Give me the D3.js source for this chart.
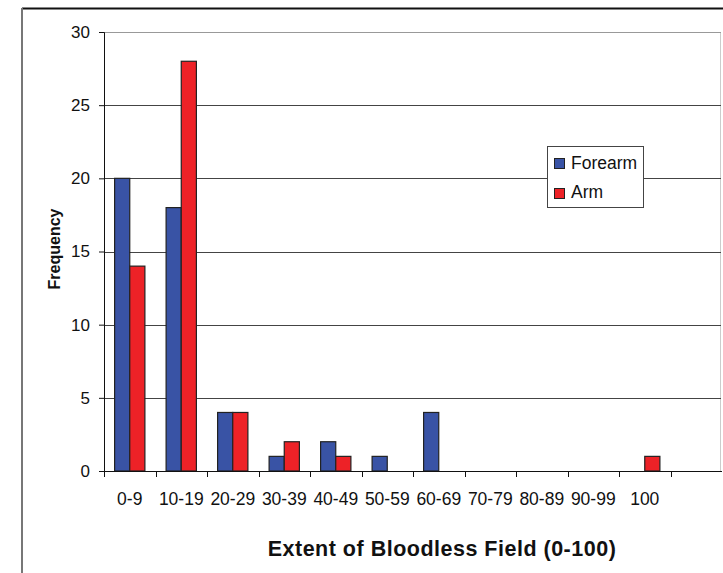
<!DOCTYPE html>
<html>
  <head>
    <meta charset="utf-8">
    <title>Extent of Bloodless Field</title>
    <script src="https://d3js.org/d3.v7.min.js"></script>
    <style>
      body { margin: 0; background: #fff; }
      svg text { font-family: "Liberation Sans", Arial, sans-serif; fill: #111; }
    </style>
  </head>
  <body>
    <div id="chart"></div>
    <script>
      // categories (last slot is empty, the plot runs on past "100")
      const categories = ["0-9", "10-19", "20-29", "30-39", "40-49", "50-59", "60-69", "70-79", "80-89", "90-99", "100", ""];
      const seriesNames = ["Forearm", "Arm"];
      const forearm = [20, 18, 4, 1, 2, 1, 4, 0, 0, 0, 0];
      const arm = [14, 28, 4, 2, 1, 0, 0, 0, 0, 0, 1];
      const yTicks = [0, 5, 10, 15, 20, 25, 30];
      const colors = ["#3953a5", "#ed2227"];

      const width = 723, height = 573;
      const plotLeft = 104, plotRight = 722, plotTop = 32, plotBottom = 471;

      const svg = d3.select("#chart").append("svg")
          .attr("width", width)
          .attr("height", height);

      // outer frame of the chart object
      svg.append("line").attr("x1", 22).attr("x2", width).attr("y1", 8.5).attr("y2", 8.5)
          .attr("stroke", "#111").attr("stroke-width", 2);
      svg.append("line").attr("x1", 22).attr("x2", 22).attr("y1", 8).attr("y2", height)
          .attr("stroke", "#777").attr("stroke-width", 2);

      const x = d3.scaleBand().domain(categories).range([plotLeft, plotRight]).paddingInner(0).paddingOuter(0);
      const x1 = d3.scaleBand().domain(seriesNames).range([0, x.bandwidth()]).paddingInner(0).paddingOuter(0.7);
      const y = d3.scaleLinear().domain([0, 30]).range([plotBottom, plotTop]);

      // plot area right border
      svg.append("line").attr("x1", plotRight - 1.5).attr("x2", plotRight - 1.5).attr("y1", plotTop).attr("y2", plotBottom)
          .attr("stroke", "#ccc");

      // gridlines
      svg.append("g")
          .selectAll("line")
          .data(yTicks.filter(d => d > 0))
          .join("line")
          .attr("x1", plotLeft).attr("x2", plotRight - 1)
          .attr("y1", d => Math.round(y(d)) + 0.5).attr("y2", d => Math.round(y(d)) + 0.5)
          .attr("stroke", d => d === 30 ? "#999" : "#444");

      // bars
      const rows = categories.slice(0, forearm.length).map((c, i) => ({cat: c, values: [forearm[i], arm[i]]}));
      svg.append("g")
          .selectAll("g")
          .data(rows)
          .join("g")
          .attr("transform", d => `translate(${x(d.cat)},0)`)
          .selectAll("rect")
          .data(d => d.values.map((v, j) => ({name: seriesNames[j], v: v, j: j})).filter(e => e.v > 0))
          .join("rect")
          .attr("x", d => x1(d.name))
          .attr("width", x1.bandwidth())
          .attr("y", d => y(d.v))
          .attr("height", d => y(0) - y(d.v))
          .attr("fill", d => colors[d.j])
          .attr("stroke", "#222")
          .attr("stroke-width", 1.2);

      // y axis
      const yAxis = svg.append("g")
          .attr("transform", `translate(${plotLeft},0)`)
          .call(d3.axisLeft(y).tickValues(yTicks).tickSize(5).tickPadding(9));
      yAxis.select(".domain").attr("stroke", "#111");
      yAxis.selectAll(".tick line").attr("stroke", "#111");
      yAxis.selectAll("text").style("font-size", "17px").attr("fill", "#111");

      // x axis
      const xAxis = svg.append("g")
          .attr("transform", `translate(0,${plotBottom})`)
          .call(d3.axisBottom(x).tickSize(0).tickPadding(22));
      xAxis.select(".domain").attr("stroke", "#111").attr("d", `M${plotLeft},0.5H${plotRight}`);
      xAxis.selectAll("text").style("font-size", "17.5px").attr("fill", "#111");
      svg.append("g")
          .selectAll("line")
          .data(categories)
          .join("line")
          .attr("x1", d => Math.round(x(d)) + 0.5).attr("x2", d => Math.round(x(d)) + 0.5)
          .attr("y1", plotBottom).attr("y2", plotBottom + 6)
          .attr("stroke", "#111");

      // axis titles
      svg.append("text")
          .attr("x", 442).attr("y", 556)
          .attr("text-anchor", "middle")
          .style("font-size", "21.5px").style("font-weight", "bold").style("letter-spacing", "0.5px")
          .text("Extent of Bloodless Field (0-100)");
      svg.append("text")
          .attr("transform", "translate(60,249) rotate(-90)")
          .attr("text-anchor", "middle")
          .style("font-size", "16px").style("font-weight", "bold")
          .text("Frequency");

      // legend
      const legend = svg.append("g").attr("transform", "translate(547,146)");
      legend.append("rect").attr("x", 0.5).attr("y", 0.5).attr("width", 96).attr("height", 61)
          .attr("fill", "#fff").attr("stroke", "#444");
      seriesNames.forEach((name, i) => {
        legend.append("rect")
            .attr("x", 7.5).attr("y", 12.5 + i * 30).attr("width", 10).attr("height", 10)
            .attr("fill", colors[i]).attr("stroke", "#222");
        legend.append("text")
            .attr("x", 24).attr("y", 23 + i * 29)
            .style("font-size", "17.5px")
            .text(name);
      });
    </script>
  </body>
</html>
